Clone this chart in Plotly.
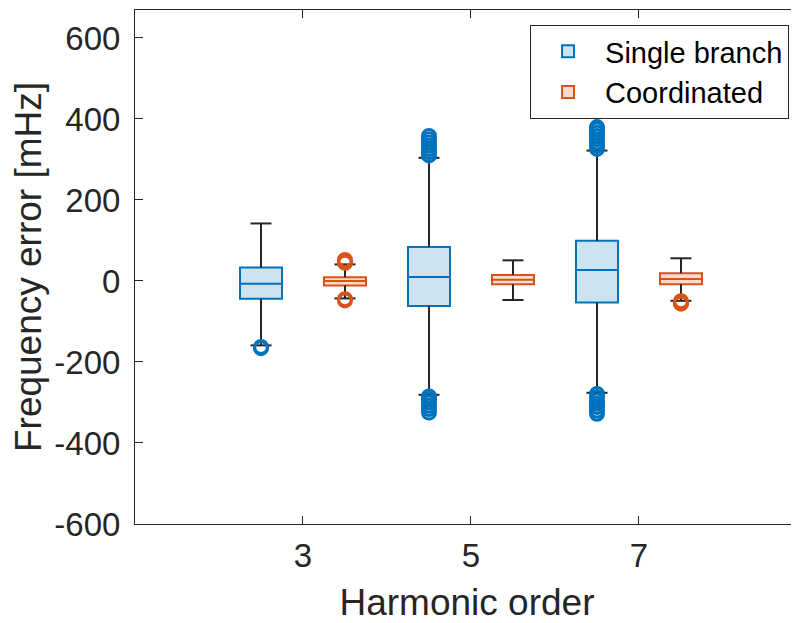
import plotly.graph_objects as go

# ---- data ----
harmonics = [3, 5, 7]
tick_labels = ["3", "5", "7"]
y_ticks = [-600, -400, -200, 0, 200, 400, 600]
y_tick_labels = ["-600", "-400", "-200", "0", "200", "400", "600"]

single_pos = [2.5, 4.5, 6.5]
single_q1 = [-44, -62, -53]
single_med = [-7, 10, 27]
single_q3 = [33, 84, 99]
single_lo = [-159, -281, -276]
single_hi = [142, 304, 322]
single_out = [
    [-163, -166],
    [310, 318, 326, 334, 342, 350, 358, -285, -292, -300, -308, -316, -325],
    [326, 334, 342, 350, 358, 366, 374, 380, -279, -287, -295, -303, -311, -320, -328],
]

coord_pos = [3.5, 5.5, 7.5]
coord_q1 = [-11, -8, -8]
coord_med = [0, 3, 5]
coord_q3 = [9, 15, 19]
coord_lo = [-43, -47, -49]
coord_hi = [41, 51, 56]
coord_out = [
    [45, 48, 52, -45, -48],
    [],
    [-50, -53, -56],
]

BOX_W = 0.5
CAP_W = 0.25

blue = "#0072BD"
orange = "#D95319"
dark = "#262626"
font = "Liberation Sans, Arial, sans-serif"

fig = go.Figure()


def add_series(name, pos, q1, med, q3, lo, hi, outs, color, fill):
    # whiskers + caps
    wx, wy = [], []
    for p, a, b, l, h in zip(pos, q1, q3, lo, hi):
        wx += [p, p, None, p, p, None]
        wy += [l, a, None, b, h, None]
        wx += [p - CAP_W / 2, p + CAP_W / 2, None, p - CAP_W / 2, p + CAP_W / 2, None]
        wy += [l, l, None, h, h, None]
    fig.add_trace(go.Scatter(x=wx, y=wy, mode="lines",
                             line=dict(color=dark, width=2),
                             showlegend=False, hoverinfo="skip"))
    fig.add_trace(go.Box(name=name, x=pos, q1=q1, median=med, q3=q3,
                         lowerfence=q1, upperfence=q3, width=BOX_W,
                         whiskerwidth=0, boxpoints=False,
                         line=dict(color=color, width=2), fillcolor=fill))
    ox, oy = [], []
    for p, vals in zip(pos, outs):
        for v in vals:
            ox.append(p)
            oy.append(v)
    fig.add_trace(go.Scatter(x=ox, y=oy, mode="markers",
                             marker=dict(symbol="circle-open", size=13,
                                         color=color, line=dict(width=3, color=color)),
                             showlegend=False, hoverinfo="skip"))


add_series("Single branch", single_pos, single_q1, single_med, single_q3,
           single_lo, single_hi, single_out, blue, "rgba(0,114,189,0.2)")
add_series("Coordinated", coord_pos, coord_q1, coord_med, coord_q3,
           coord_lo, coord_hi, coord_out, orange, "rgba(217,83,25,0.2)")

fig.update_layout(
    width=791, height=615,
    margin=dict(l=127, r=0, t=2, b=99),
    paper_bgcolor="white", plot_bgcolor="white",
    boxmode="overlay",
    font=dict(family=font, color=dark),
    legend=dict(x=0.985, y=0.971, xanchor="right", yanchor="top",
                bordercolor=dark, borderwidth=1, bgcolor="white",
                font=dict(size=29, color="black", family=font),
                itemwidth=64, tracegroupgap=0),
    xaxis=dict(range=[1, 8.905], tickvals=harmonics, ticktext=tick_labels,
               ticks="inside", ticklen=8, tickwidth=1, tickcolor=dark,
               showline=True, linecolor=dark, linewidth=1, mirror="ticks",
               showgrid=False, zeroline=False, automargin=False,
               tickfont=dict(size=33, family=font, color=dark),
               title=dict(text="Harmonic order", font=dict(size=37, family=font, color=dark),
                          standoff=17),
               ticklabelstandoff=2),
    yaxis=dict(range=[-600, 669], tickvals=y_ticks, ticktext=y_tick_labels,
               ticks="inside", ticklen=8, tickwidth=1, tickcolor=dark,
               showline=True, linecolor=dark, linewidth=1, mirror=False,
               showgrid=False, zeroline=False, automargin=False,
               tickfont=dict(size=33, family=font, color=dark),
               title=dict(text="Frequency error [mHz]", font=dict(size=37, family=font, color=dark),
                          standoff=14),
               ticklabelstandoff=7),
)

fig.write_html("out.html")
